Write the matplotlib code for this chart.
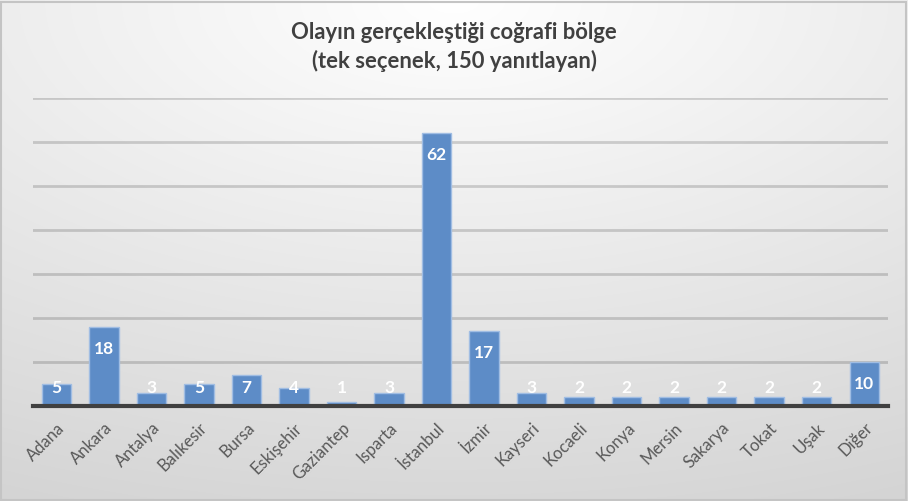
import numpy as np
import matplotlib.pyplot as plt
from matplotlib.patches import Rectangle

sehirler = ["Adana", "Ankara", "Antalya", "Balıkesir", "Bursa", "Eskişehir",
            "Gaziantep", "Isparta", "İstanbul", "İzmir", "Kayseri", "Kocaeli",
            "Konya", "Mersin", "Sakarya", "Tokat", "Uşak", "Diğer"]
yanit = [5, 18, 3, 5, 7, 4, 1, 3, 62, 17, 3, 2, 2, 2, 2, 2, 2, 10]

baslik = "Olayın gerçekleştiği coğrafi bölge\n(tek seçenek, 150 yanıtlayan)"

plt.rcParams['font.family'] = ['Lato', 'DejaVu Sans']

fig = plt.figure(figsize=(9.08, 5.01), dpi=100)

# arka plan: ustte ortada beyaz, kenarlara dogru gri
bg = fig.add_axes([0, 0, 1, 1], zorder=-10)
yy, xx = np.mgrid[0:1:300j, 0:1:500j]
r = np.sqrt(((xx - 0.5) * 0.9) ** 2 + (yy * 1.0) ** 2)
r = np.clip(r / 1.1, 0, 1)
g = 1.0 - 0.17 * r
img = np.dstack([g, g, g])
bg.imshow(img, aspect="auto", extent=[0, 1, 1, 0], interpolation="bilinear")
bg.add_patch(Rectangle((0.001, 0.002), 0.997, 0.995, fill=False,
                       edgecolor="#c4c4c4", lw=1.5, transform=bg.transAxes))
bg.set_xlim(0, 1)
bg.set_ylim(1, 0)
bg.axis("off")

ax = fig.add_axes([0.036, 0.1896, 0.942, 0.6148])
ax.set_facecolor("none")

x = np.arange(len(sehirler))
ax.bar(x, yanit, width=0.62, color="#5d8cc7", edgecolor="#a0bde3", linewidth=1, zorder=3)

for xi, v in zip(x, yanit):
    ax.text(xi, max(v - 5, 4.1), str(v), ha="center", va="center",
            color="white", fontsize=12.5, fontweight="bold", zorder=4)

ax.set_xlim(-0.5, len(sehirler) - 0.5)
ax.set_ylim(0, 70)
ax.set_yticks(np.arange(10, 71, 10))
ax.yaxis.grid(True, color="#000000", alpha=0.16, linewidth=2, zorder=1)
ax.tick_params(axis="y", left=False, labelleft=False)
ax.tick_params(axis="x", length=0, pad=10)
ax.set_xticks(x)
ax.set_xticklabels(sehirler, rotation=45, ha="right", va="top",
                   rotation_mode="anchor", fontsize=12, color="#595959")

for s in ["left", "right", "top"]:
    ax.spines[s].set_visible(False)
ax.spines["bottom"].set_color("#404040")
ax.spines["bottom"].set_linewidth(3)
ax.spines["bottom"].set_zorder(5)

fig.text(0.5, 0.907, baslik, ha="center", va="center", fontsize=15.8,
         fontweight="bold", color="#404040", linespacing=1.38)

fig.savefig("out.png", dpi=100)
